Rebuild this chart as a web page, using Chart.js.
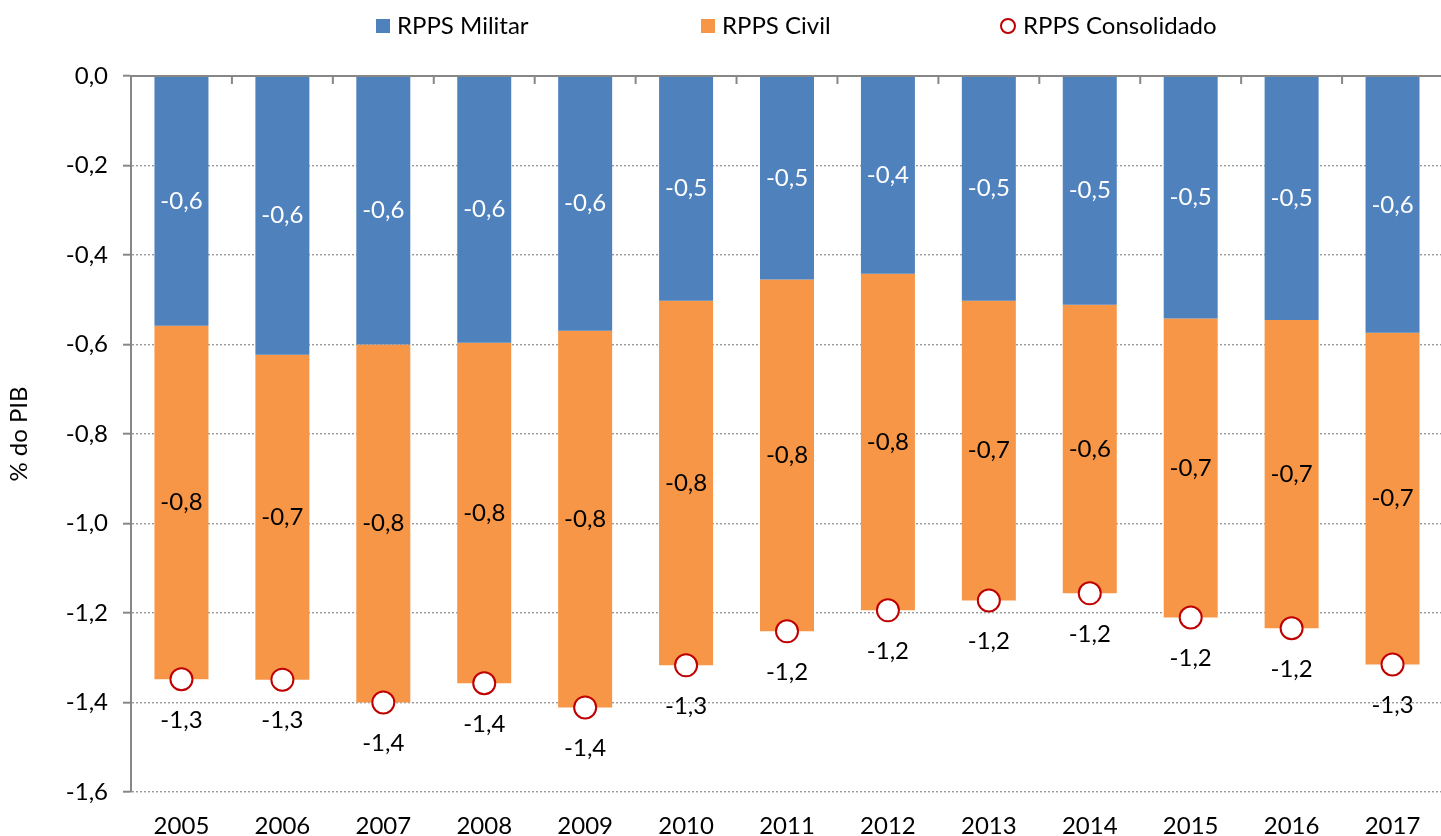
<!DOCTYPE html>
<html>
<head>
<meta charset="utf-8">
<script src="https://cdn.jsdelivr.net/npm/chart.js@4.4.1/dist/chart.umd.min.js"></script>
<style>
  html, body { margin: 0; padding: 0; overflow: hidden; background: #ffffff; width: 1441px; height: 836px; }
  #wrap { position: absolute; left: 0; top: 0; width: 1456px; height: 836px; }
  .lg { position: absolute; font-family: Lato, "Open Sans", sans-serif; font-size: 24px; color: #000; line-height: 1; white-space: nowrap; }
  .box { position: absolute; width: 14px; height: 14px; }
  .circ { position: absolute; width: 12px; height: 12px; border: 2px solid #C00000; border-radius: 50%; background: #fff; }
</style>
</head>
<body>
<div id="wrap"><canvas id="c" width="1456" height="836"></canvas></div>
<div class="box" style="left:376px;top:19px;background:#4F81BD"></div>
<div class="lg" style="left:397px;top:13px">RPPS Militar</div>
<div class="box" style="left:701px;top:19px;background:#F79646"></div>
<div class="lg" style="left:722px;top:13px">RPPS Civil</div>
<div class="circ" style="left:1000px;top:18px"></div>
<div class="lg" style="left:1023px;top:13px">RPPS Consolidado</div>
<script>
const years = ['2005','2006','2007','2008','2009','2010','2011','2012','2013','2014','2015','2016','2017'];
const rppsMilitar = [-0.558,-0.623,-0.600,-0.596,-0.569,-0.502,-0.455,-0.442,-0.502,-0.511,-0.542,-0.545,-0.574];
const rppsCivil = [-0.790,-0.726,-0.800,-0.761,-0.842,-0.815,-0.786,-0.752,-0.670,-0.645,-0.668,-0.689,-0.741];
const rppsConsolidado = [-1.348,-1.349,-1.400,-1.357,-1.411,-1.317,-1.241,-1.194,-1.172,-1.156,-1.210,-1.234,-1.315];
const yTickMin = -1.6, yTickMax = 0.0, yTickStep = 0.2;

const FONT = 'Lato, "Open Sans", sans-serif';
const FS = 24;
const fmt = v => (Math.round(v * 10) / 10).toFixed(1).replace('.', ',').replace(/^-0,0$/, '0,0');

const extras = {
  id: 'extras',
  afterDatasetsDraw(chart) {
    const ctx = chart.ctx, xs = chart.scales.x, ys = chart.scales.y, ca = chart.chartArea;
    ctx.save();
    const y0 = ys.getPixelForValue(0);
    ctx.strokeStyle = '#878787'; ctx.lineWidth = 2; ctx.setLineDash([]);
    ctx.beginPath(); ctx.moveTo(ca.left, y0); ctx.lineTo(ca.right, y0); ctx.stroke();
    const n = years.length;
    for (let i = 0; i <= n; i++) {
      let x;
      if (i === 0) x = ca.left;
      else if (i === n) x = ca.right;
      else x = (xs.getPixelForValue(i - 1) + xs.getPixelForValue(i)) / 2;
      ctx.beginPath(); ctx.moveTo(x, y0); ctx.lineTo(x, y0 + 8); ctx.stroke();
    }
    ctx.font = FS + 'px ' + FONT;
    ctx.textAlign = 'center'; ctx.textBaseline = 'middle';
    [0, 1].forEach(di => {
      const meta = chart.getDatasetMeta(di);
      const vals = chart.data.datasets[di].data;
      ctx.fillStyle = di === 0 ? '#ffffff' : '#000000';
      meta.data.forEach((bar, i) => {
        const p = bar.getProps(['x', 'y', 'base'], true);
        ctx.fillText(fmt(vals[i]), p.x, (p.y + p.base) / 2);
      });
    });
    const lm = chart.getDatasetMeta(2);
    ctx.fillStyle = '#000000';
    lm.data.forEach((pt, i) => {
      const p = pt.getProps(['x', 'y'], true);
      ctx.fillText(fmt(rppsConsolidado[i]), p.x, p.y + 41);
    });
    ctx.restore();
  }
};

new Chart(document.getElementById('c'), {
  data: {
    labels: years,
    datasets: [
      { type: 'bar', label: 'RPPS Militar', data: rppsMilitar, backgroundColor: '#4F81BD', stack: 's', order: 2,
        barPercentage: 0.535, categoryPercentage: 1.0 },
      { type: 'bar', label: 'RPPS Civil', data: rppsCivil, backgroundColor: '#F79646', stack: 's', order: 2,
        barPercentage: 0.535, categoryPercentage: 1.0 },
      { type: 'line', label: 'RPPS Consolidado', data: rppsConsolidado, stack: 'line', order: 0,
        showLine: false, pointRadius: 11, pointHoverRadius: 11, pointBorderWidth: 2,
        pointBorderColor: '#C00000', pointBackgroundColor: '#ffffff', borderColor: '#C00000', backgroundColor: '#ffffff' }
    ]
  },
  options: {
    responsive: false,
    animation: false,
    events: [],
    layout: { padding: { top: 76, right: 0, bottom: 0, left: 0 } },
    plugins: { legend: { display: false }, tooltip: { enabled: false } },
    scales: {
      x: {
        stacked: true,
        offset: true,
        grid: { display: false, drawTicks: false },
        border: { display: false },
        ticks: { color: '#000', font: { family: FONT, size: FS }, padding: 20, maxRotation: 0, autoSkip: false },
        afterFit: s => { s.height = 44; }
      },
      y: {
        stacked: true,
        min: yTickMin, max: yTickMax,
        ticks: { stepSize: yTickStep, color: '#000', font: { family: FONT, size: FS }, padding: 15,
                 callback: v => fmt(v) },
        grid: {
          color: ctx => (ctx.tick && Math.abs(ctx.tick.value) < 1e-9) ? 'rgba(0,0,0,0)' : '#9a9a9a',
          lineWidth: 1.4,
          tickColor: '#878787', tickWidth: 2, tickLength: 8, tickBorderDash: []
        },
        border: { display: true, color: '#878787', width: 2, dash: [2, 2] },
        title: { display: true, text: '% do PIB', color: '#000', font: { family: FONT, size: FS }, padding: { top: 5, bottom: 0 } },
        afterFit: s => { s.width = 131; }
      }
    }
  },
  plugins: [extras]
});
</script>
</body>
</html>
